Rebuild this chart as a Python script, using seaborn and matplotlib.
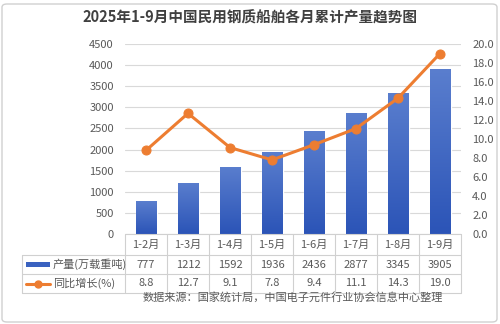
import numpy as np
import pandas as pd
import matplotlib
matplotlib.use("Agg")
import matplotlib.pyplot as plt
from matplotlib.patches import FancyBboxPatch, Rectangle
from matplotlib.lines import Line2D
import seaborn as sns

# Data
months = ["1-2月", "1-3月", "1-4月", "1-5月", "1-6月", "1-7月", "1-8月", "1-9月"]
output = [777, 1212, 1592, 1936, 2436, 2877, 3345, 3905]
growth = [8.8, 12.7, 9.1, 7.8, 9.4, 11.1, 14.3, 19.0]
series_names = ["产量(万载重吨)", "同比增长(%)"]
title = "2025年1-9月中国民用钢质船舶各月累计产量趋势图"
source = "数据来源：国家统计局，中国电子元件行业协会信息中心整理"

sns.set_theme(style="white")
plt.rcParams["font.family"] = ["Noto Sans CJK SC", "DejaVu Sans"]

BLUE_TOP = np.array([0x5A, 0x7E, 0xCE]) / 255
BLUE_BOT = np.array([0x2B, 0x54, 0xB7]) / 255
ORANGE = "#ED7D31"
GRID = "#D9D9D9"
TXT = "#595959"

W, H = 500, 324
fig = plt.figure(figsize=(W / 100, H / 100), dpi=100)
fig.patch.set_facecolor("white")

# outer frame
fig.patches.append(FancyBboxPatch((2 / W, 2 / H), 495 / W, 318 / H,
                                  boxstyle="round,pad=0,rounding_size=0.01",
                                  transform=fig.transFigure, fill=False,
                                  edgecolor="#D0D0D0", linewidth=1.0))

left, right, top, bottom = 125, 461, 44, 234
ax = fig.add_axes([left / W, 1 - bottom / H, (right - left) / W, (bottom - top) / H])

df = pd.DataFrame({"month": months, "output": output, "growth": growth})
sns.barplot(data=df, x="month", y="output", ax=ax, width=0.5, color=BLUE_BOT,
            saturation=1, zorder=3)

ax.set_ylim(0, 4500)
ax.set_xlim(-0.5, len(months) - 0.5)
ax.set_yticks(np.arange(0, 4501, 500))
ax.yaxis.grid(True, color=GRID, linewidth=0.8, zorder=0)
ax.set_axisbelow(True)
ax.set_xlabel("")
ax.set_ylabel("")
for s in ax.spines.values():
    s.set_visible(False)
ax.tick_params(axis="y", labelsize=8, colors=TXT, length=0, pad=8)
ax.tick_params(axis="x", length=0, labelsize=8, colors=TXT, pad=6)
ax.set_xticklabels([])

# gradient fill and faint shadow for bars
grad = np.linspace(0, 1, 256)[:, None]
cols = BLUE_BOT[None, None, :] * (1 - grad[..., None]) + BLUE_TOP[None, None, :] * grad[..., None]
for p in list(ax.patches):
    x0, y0 = p.get_x(), p.get_y()
    w, h = p.get_width(), p.get_height()
    for k, a in [(0.035, 0.05), (0.02, 0.07)]:
        ax.add_patch(Rectangle((x0 + k, y0), w, h - 4500 * 0.004, facecolor="#000000",
                               alpha=a, edgecolor="none", zorder=2))
    im = ax.imshow(cols, extent=[x0, x0 + w, y0, y0 + h], origin="lower",
                   aspect="auto", zorder=4)
    im.set_clip_path(p)

ax2 = ax.twinx()
sns.lineplot(x=np.arange(len(months)), y=growth, ax=ax2, color=ORANGE, linewidth=2.2,
             marker="o", markersize=6.5, markeredgecolor=ORANGE, zorder=5)
ax2.set_ylim(0, 20)
ax2.set_yticks(np.arange(0, 20.1, 2))
ax2.set_yticklabels([f"{v:.1f}" for v in np.arange(0, 20.1, 2)])
ax2.tick_params(axis="y", labelsize=8, colors=TXT, length=0, pad=8)
for s in ax2.spines.values():
    s.set_visible(False)
ax2.set_xlim(-0.5, len(months) - 0.5)

# data table below the axes
n = len(months)
row_h = [21, 19, 19]
y_lines = [bottom, bottom + row_h[0], bottom + row_h[0] + row_h[1], bottom + sum(row_h)]
tleft = 22
col_w = (right - left) / n
line_kw = dict(color="#D0D0D0", linewidth=0.8, transform=fig.transFigure)


def fy(py):
    return 1 - py / H


def fx(px):
    return px / W


# horizontal lines
fig.add_artist(Line2D([fx(left), fx(right)], [fy(y_lines[0])] * 2, **line_kw))
for yl in y_lines[1:]:
    fig.add_artist(Line2D([fx(tleft), fx(right)], [fy(yl)] * 2, **line_kw))
# vertical lines
for i in range(n + 1):
    xl = left + i * col_w
    fig.add_artist(Line2D([fx(xl)] * 2, [fy(y_lines[0]), fy(y_lines[3])], **line_kw))
fig.add_artist(Line2D([fx(tleft)] * 2, [fy(y_lines[1]), fy(y_lines[3])], **line_kw))

for i, m in enumerate(months):
    cx = fx(left + (i + 0.5) * col_w)
    fig.text(cx, fy((y_lines[0] + y_lines[1]) / 2), m, ha="center", va="center",
             fontsize=8, color=TXT)
    fig.text(cx, fy((y_lines[1] + y_lines[2]) / 2), f"{output[i]}", ha="center",
             va="center", fontsize=8, color=TXT)
    fig.text(cx, fy((y_lines[2] + y_lines[3]) / 2), f"{growth[i]:.1f}", ha="center",
             va="center", fontsize=8, color=TXT)

# legend keys in the table row headers
ym1 = fy((y_lines[1] + y_lines[2]) / 2)
ym2 = fy((y_lines[2] + y_lines[3]) / 2)
fig.patches.append(Rectangle((fx(26), ym1 - 2.5 / H), 24 / W, 5 / H,
                             transform=fig.transFigure, facecolor="#3A62C0",
                             edgecolor="none"))
fig.add_artist(Line2D([fx(26), fx(50)], [ym2, ym2], color=ORANGE, linewidth=2.2,
                      transform=fig.transFigure))
fig.add_artist(Line2D([fx(38)], [ym2], color=ORANGE, marker="o", markersize=5,
                      transform=fig.transFigure))
fig.text(fx(53), ym1, series_names[0], ha="left", va="center", fontsize=8, color=TXT)
fig.text(fx(53), ym2, series_names[1], ha="left", va="center", fontsize=8, color=TXT)

fig.text(fx(293), fy(297), source, ha="center", va="center", fontsize=8, color=TXT)
fig.text(0.5, fy(18), title, ha="center", va="center", fontsize=10.5,
         fontweight="bold", color="#404040")

fig.savefig("out.png", dpi=100, facecolor="white")
